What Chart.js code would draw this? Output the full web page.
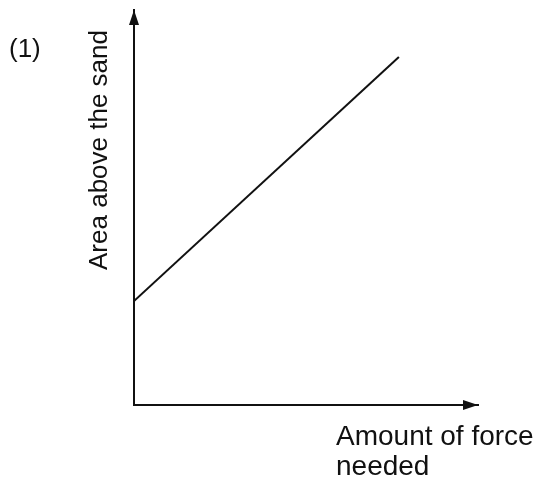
<!DOCTYPE html>
<html>
<head>
<meta charset="utf-8">
<script src="https://cdn.jsdelivr.net/npm/chart.js@4"></script>
<style>
  html, body { margin: 0; padding: 0; background: #fff; }
  #wrap { width: 541px; height: 478px; }
</style>
</head>
<body>
<div id="wrap"><canvas id="forceChart" width="541" height="478"></canvas></div>
<script>
// line from the y axis intercept up to the right
const forceValues = [0, 7.7];
const areaValues = [2.63, 8.81];
const xRange = [0, 10];
const yRange = [0, 10];

const yLabel = 'Area above the sand';
const xLabelLines = ['Amount of force', 'needed'];
const panelLabel = '(1)';

const ink = '#111';
const fontFamily = '"Liberation Sans", Arial, sans-serif';

// arrow heads and labels drawn on top of the chart area
const sketchPlugin = {
    id: 'sketch',
    afterDraw(chart) {
        const ctx = chart.ctx;
        const a = chart.chartArea;
        ctx.save();
        ctx.fillStyle = ink;

        // y axis arrow
        ctx.beginPath();
        ctx.moveTo(a.left, a.top);
        ctx.lineTo(a.left - 5, a.top + 15);
        ctx.lineTo(a.left + 5, a.top + 15);
        ctx.closePath();
        ctx.fill();

        // x axis arrow
        ctx.beginPath();
        ctx.moveTo(a.right, a.bottom);
        ctx.lineTo(a.right - 15, a.bottom - 5);
        ctx.lineTo(a.right - 15, a.bottom + 5);
        ctx.closePath();
        ctx.fill();

        ctx.font = '26px ' + fontFamily;
        ctx.textBaseline = 'middle';

        ctx.textAlign = 'left';
        ctx.fillText(panelLabel, 9, 50);

        ctx.save();
        ctx.translate(a.left - 34, 150);
        ctx.rotate(-Math.PI / 2);
        ctx.textAlign = 'center';
        ctx.fillText(yLabel, 0, 0);
        ctx.restore();

        ctx.font = '28px ' + fontFamily;
        ctx.textBaseline = 'alphabetic';
        ctx.textAlign = 'left';
        xLabelLines.forEach((line, i) => {
            ctx.fillText(line, 336, 445 + i * 30);
        });
        ctx.restore();
    }
};

const ctx = document.getElementById('forceChart').getContext('2d');
new Chart(ctx, {
    type: 'scatter',
    data: {
        datasets: [{
            data: forceValues.map((x, i) => ({ x: x, y: areaValues[i] })),
            showLine: true,
            borderColor: ink,
            borderWidth: 2,
            pointRadius: 0,
            fill: false
        }]
    },
    options: {
        responsive: false,
        animation: false,
        layout: {
            padding: { left: 134, right: 63, top: 10, bottom: 73 }
        },
        scales: {
            x: {
                type: 'linear',
                min: xRange[0],
                max: xRange[1],
                grid: { display: false },
                ticks: { display: false },
                border: { color: ink, width: 2 },
                afterFit(scale) { scale.height = 0; }
            },
            y: {
                type: 'linear',
                min: yRange[0],
                max: yRange[1],
                grid: { display: false },
                ticks: { display: false },
                border: { color: ink, width: 2 },
                afterFit(scale) { scale.width = 0; }
            }
        },
        plugins: {
            legend: { display: false },
            tooltip: { enabled: false }
        }
    },
    plugins: [sketchPlugin]
});
</script>
</body>
</html>
